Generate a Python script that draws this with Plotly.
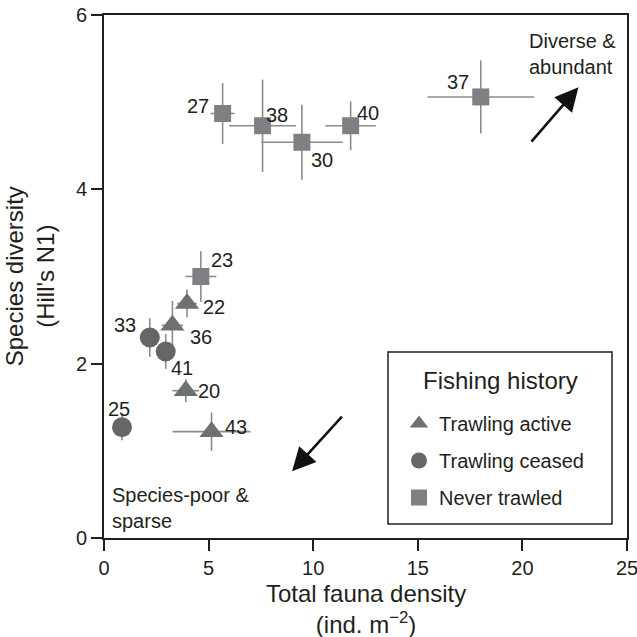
import plotly.graph_objects as go

# ---- data ----
active_sites = ["22", "36", "20", "43"]
active_x = [3.97, 3.27, 3.91, 5.14]
active_y = [2.69, 2.44, 1.69, 1.22]
active_xerr = [0.47, 0.50, 0.64, 1.86]
active_yerr = [0.16, 0.28, 0.13, 0.22]

ceased_sites = ["33", "41", "25"]
ceased_x = [2.19, 2.95, 0.86]
ceased_y = [2.30, 2.14, 1.27]
ceased_xerr = [0.25, 0.25, 0.20]
ceased_yerr = [0.22, 0.20, 0.15]

never_sites = ["27", "38", "30", "40", "37", "23"]
never_x = [5.67, 7.58, 9.46, 11.79, 18.01, 4.63]
never_y = [4.87, 4.73, 4.54, 4.73, 5.06, 3.00]
never_xerr = [0.57, 1.60, 1.95, 1.20, 2.55, 0.74]
never_yerr = [0.35, 0.53, 0.43, 0.28, 0.42, 0.29]

x_ticks = [0, 5, 10, 15, 20, 25]
y_ticks = [0, 2, 4, 6]

# label offsets in pixels (dx right, dy down)
label_offsets = {
    "27": (-25, -8), "38": (14, -11), "30": (20, 18), "40": (17, -13),
    "37": (-23, -15), "23": (21, -17), "22": (27, 3), "36": (29, 12),
    "33": (-25, -13), "41": (16, 17), "20": (23, 0), "25": (-3, -18),
    "43": (24, -5),
}

FONT = "Liberation Sans, Arial, Helvetica, sans-serif"
TXT = "#231f20"
ERR = "#8c8c8c"

fig = go.Figure()

groups = [
    ("Trawling active", active_sites, active_x, active_y, active_xerr, active_yerr,
     "triangle-up", "#6d716f", 21),
    ("Trawling ceased", ceased_sites, ceased_x, ceased_y, ceased_xerr, ceased_yerr,
     "circle", "#646667", 20),
    ("Never trawled", never_sites, never_x, never_y, never_xerr, never_yerr,
     "square", "#808084", 17),
]

for name, s, x, y, xe, ye, sym, col, size in groups:
    fig.add_trace(go.Scatter(
        x=x, y=y, mode="markers", name=name, legendgroup=name,
        marker=dict(symbol=sym, color=col, size=size, line=dict(width=0)),
        error_x=dict(type="data", array=xe, visible=True, color=ERR, thickness=1.6, width=0),
        error_y=dict(type="data", array=ye, visible=True, color=ERR, thickness=1.6, width=0),
        hoverinfo="skip",
    ))
    for si, xi, yi in zip(s, x, y):
        dx, dy = label_offsets[si]
        fig.add_annotation(x=xi, y=yi, text=si, showarrow=False,
                           xshift=dx, yshift=-dy, xanchor="center", yanchor="middle",
                           font=dict(family=FONT, size=20, color=TXT))

# arrows
fig.add_annotation(x=22.68, y=5.17, ax=20.37, ay=4.53, xref="x", yref="y",
                   axref="x", ayref="y", showarrow=True, arrowhead=2,
                   arrowsize=1.8, arrowwidth=2.6, arrowcolor="#111111", text="")
fig.add_annotation(x=8.99, y=0.765, ax=11.44, ay=1.41, xref="x", yref="y",
                   axref="x", ayref="y", showarrow=True, arrowhead=2,
                   arrowsize=1.8, arrowwidth=2.6, arrowcolor="#111111", text="")

fig.add_annotation(x=20.2, y=5.85, xref="x", yref="y", text="Diverse &<br>abundant",
                   showarrow=False, xanchor="left", yanchor="top", align="left",
                   font=dict(family=FONT, size=20, color=TXT))
fig.add_annotation(x=0.3, y=0.05, xref="x", yref="y", text="Species-poor &<br>sparse",
                   showarrow=False, xanchor="left", yanchor="bottom", align="left",
                   font=dict(family=FONT, size=20, color=TXT))

# axis titles
fig.add_annotation(x=0.5, y=-0.136, xref="paper", yref="paper",
                   text="Total fauna density<br>(ind. m<sup>\u22122</sup>)",
                   showarrow=False, xanchor="center", yanchor="middle",
                   font=dict(family=FONT, size=24, color=TXT))
fig.add_annotation(x=-0.142, y=0.5, xref="paper", yref="paper",
                   text="Species diversity<br>(Hill's N1)", textangle=-90,
                   showarrow=False, xanchor="center", yanchor="middle",
                   font=dict(family=FONT, size=24, color=TXT))

# legend frame and title
fig.add_shape(type="rect", xref="paper", yref="paper",
              x0=(388 - 104) / 523, x1=(612 - 104) / 523,
              y0=(538 - 524) / 523, y1=(538 - 352) / 523,
              line=dict(color=TXT, width=1.5), fillcolor="white", layer="above")
fig.add_annotation(x=(500 - 104) / 523, y=(538 - 380) / 523, xref="paper", yref="paper",
                   text="Fishing history", showarrow=False,
                   xanchor="center", yanchor="middle",
                   font=dict(family=FONT, size=24, color=TXT))

axis_common = dict(showline=True, linecolor=TXT, linewidth=2, mirror=True,
                   ticks="outside", ticklen=11, tickwidth=1.6, tickcolor=TXT,
                   showgrid=False, zeroline=False, ticklabeloverflow="allow",
                   tickfont=dict(family=FONT, size=20, color=TXT))

fig.update_xaxes(range=[0, 25], tickvals=x_ticks, **axis_common)
fig.update_yaxes(range=[0, 6], tickvals=y_ticks, **axis_common)

fig.update_layout(
    width=637, height=637,
    margin=dict(l=104, r=10, t=15, b=99, autoexpand=False),
    plot_bgcolor="white", paper_bgcolor="white",
    showlegend=True,
    legend=dict(
        x=(399 - 104) / 523, xanchor="left", y=(538 - 517) / 523, yanchor="bottom",
        bgcolor="rgba(0,0,0,0)", borderwidth=0,
        font=dict(family=FONT, size=20, color=TXT),
        tracegroupgap=8, itemsizing="trace",
    ),
)

fig.write_html("out.html")
